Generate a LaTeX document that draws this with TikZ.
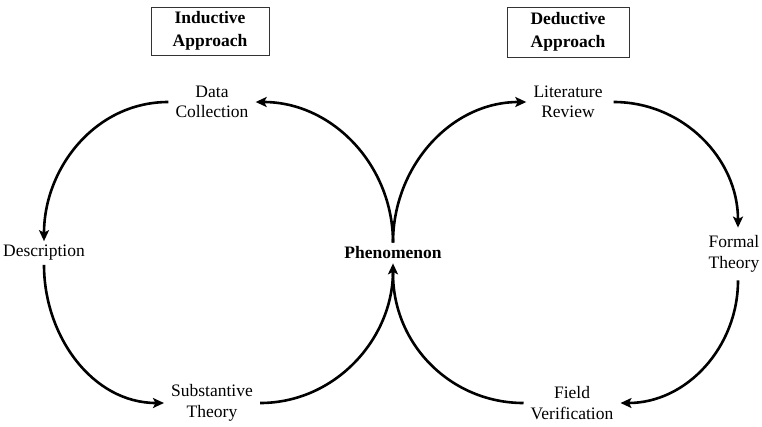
\documentclass[tikz,border=0pt]{standalone}
\usepackage{fontspec}
\setmainfont{Liberation Serif}
\usetikzlibrary{arrows.meta}
\begin{document}
\begin{tikzpicture}[x=1pt,y=-1pt,
  lbl/.style={align=center,font=\fontsize{17.5}{20.5}\selectfont,inner xsep=7pt,inner ysep=4pt},
  headbox/.style={draw=black!80,line width=0.8pt,align=center,
    font=\fontsize{17.5}{23}\selectfont\bfseries,inner sep=0pt},
  flow/.style={line width=2.6pt,-{Stealth[length=11pt,width=10pt,inset=2.5pt]}},
  plain/.style={line width=2.6pt}]
\useasboundingbox (0,0) rectangle (762,426);

% headings
\node[headbox,minimum width=118pt,minimum height=48pt] (ind) at (210,31) {Inductive\\Approach};
\node[headbox,minimum width=122pt,minimum height=50pt] (ded) at (568,32) {Deductive\\Approach};

% stages
\node[lbl] (dc)   at (212,102) {Data\\Collection};
\node[lbl] (desc) at (44,253)  {Description};
\node[lbl] (sub)  at (212,403) {Substantive\\Theory};
\node[lbl,font=\fontsize{17.5}{20.5}\selectfont\bfseries] (phen) at (393,253) {Phenomenon};
\node[lbl,inner ysep=8pt] (lit)  at (568,102) {Literature\\Review};
\node[lbl,inner ysep=8pt] (form) at (734,254) {Formal\\Theory};
\node[lbl] (fv)   at (572,403) {Field\\Verification};

% inductive cycle
\draw[flow] (phen.north) to[out=90,in=0] (dc.east);
\draw[flow] (dc.west) to[out=180,in=90] (desc.north);
\draw[flow] (desc.south) to[out=-90,in=180] (sub.west);
\draw[flow] (sub.east) to[out=0,in=-90] (phen.south);

% deductive cycle
\draw[flow] (phen.north) to[out=90,in=180] (lit.west);
\draw[flow] ([xshift=4pt]lit.east) to[out=0,in=90] ([xshift=4pt]form.north);
\draw[flow] ([xshift=4pt]form.south) to[out=-90,in=0] (fv.east);
\draw[plain] (fv.west) to[out=180,in=-90] ([yshift=-10pt]phen.south);
\end{tikzpicture}
\end{document}
